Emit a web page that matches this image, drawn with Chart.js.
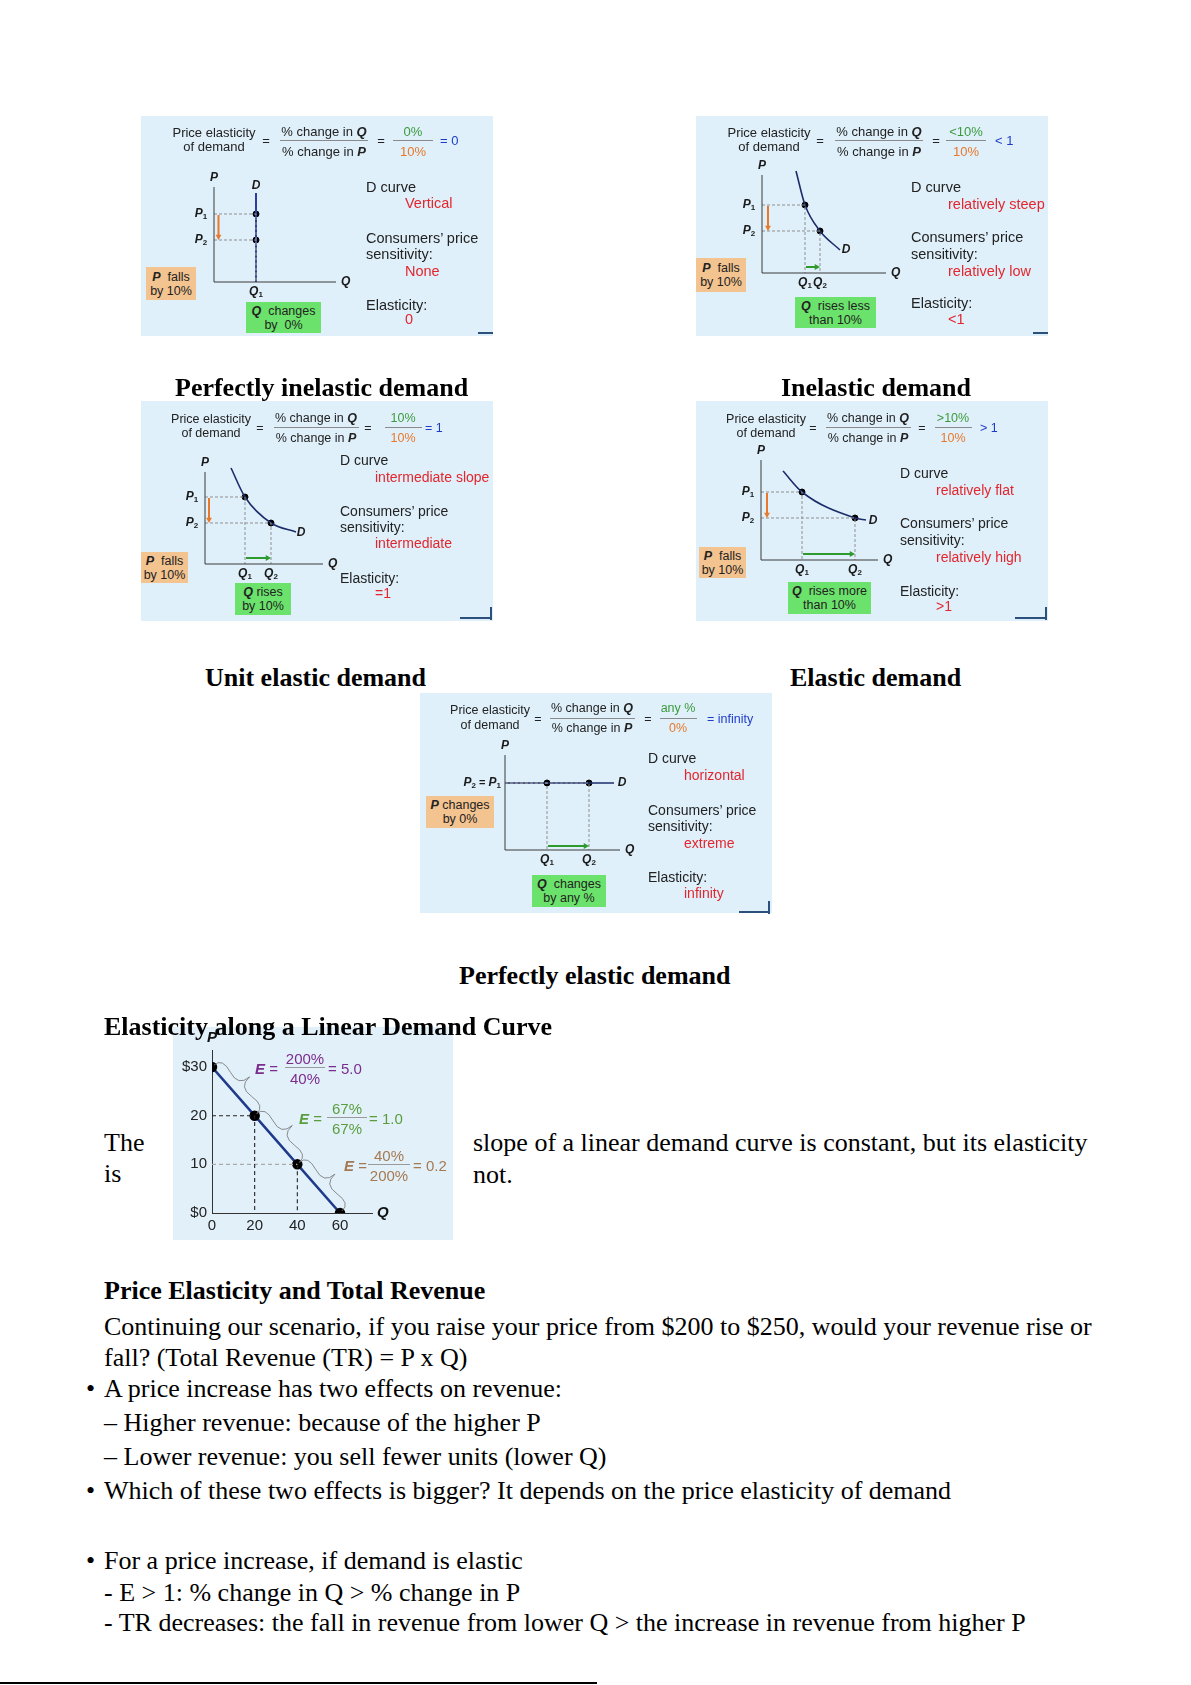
<!DOCTYPE html>
<html>
<head>
<meta charset="utf-8">
<title>Price elasticity of demand</title>
<script src="https://cdn.jsdelivr.net/npm/chart.js@4.4.1/dist/chart.umd.min.js"></script>
<style>
  html, body { margin: 0; padding: 0; background: #fff; }
  body { position: relative; width: 1191px; height: 1685px; overflow: hidden;
         font-family: "Liberation Serif", "Times New Roman", serif; color: #000; }
  .line { position: absolute; white-space: nowrap; font-size: 26px; line-height: 30px; }
  .head { font-weight: bold; }
  .panel { position: absolute; width: 352px; height: 220px; background: #dff0fa;
           font-family: "Liberation Sans", Arial, sans-serif; color: #222; }
  .panel canvas { position: absolute; left: 0; top: 0; }
  .t { position: absolute; white-space: nowrap; font-family: "Liberation Sans", Arial, sans-serif; }
  .box { position: absolute; display: flex; flex-direction: column; justify-content: center;
         align-items: center; font-size: 12.5px; line-height: 14px; color: #222; }
  .rule { position: absolute; height: 1px; background: #8a8a8a; }
  .mark { position: absolute; background: #2d4f7c; }
  #linear { position: absolute; left: 173px; top: 1027px; width: 280px; height: 213px; background: #e2f0fa; }
</style>
</head>
<body>

<div id="panels"></div>

<div class="line head" style="left:175px;top:373px">Perfectly inelastic demand</div>
<div class="line head" style="left:781px;top:373px">Inelastic demand</div>
<div class="line head" style="left:205px;top:663px">Unit elastic demand</div>
<div class="line head" style="left:790px;top:663px">Elastic demand</div>
<div class="line head" style="left:459px;top:961px">Perfectly elastic demand</div>

<div id="linear"><canvas id="linear-chart" width="280" height="213"></canvas></div>
<div class="line head" style="left:104px;top:1012px">Elasticity along a Linear Demand Curve</div>

<div class="line" style="left:104px;top:1128px">The</div>
<div class="line" style="left:104px;top:1159px">is</div>
<div class="line" style="left:473px;top:1128px">slope of a linear demand curve is constant, but its elasticity</div>
<div class="line" style="left:473px;top:1160px">not.</div>

<div class="line head" style="left:104px;top:1276px">Price Elasticity and Total Revenue</div>
<div class="line" style="left:104px;top:1312px">Continuing our scenario, if you raise your price from $200 to $250, would your revenue rise or</div>
<div class="line" style="left:104px;top:1343px">fall? (Total Revenue (TR) = P x Q)</div>
<div class="line" style="left:86px;top:1374px">•</div>
<div class="line" style="left:104px;top:1374px">A price increase has two effects on revenue:</div>
<div class="line" style="left:104px;top:1408px">– Higher revenue: because of the higher P</div>
<div class="line" style="left:104px;top:1442px">– Lower revenue: you sell fewer units (lower Q)</div>
<div class="line" style="left:86px;top:1476px">•</div>
<div class="line" style="left:104px;top:1476px">Which of these two effects is bigger? It depends on the price elasticity of demand</div>
<div class="line" style="left:86px;top:1546px">•</div>
<div class="line" style="left:104px;top:1546px">For a price increase, if demand is elastic</div>
<div class="line" style="left:104px;top:1578px">- E &gt; 1: % change in Q &gt; % change in P</div>
<div class="line" style="left:104px;top:1608px">- TR decreases: the fall in revenue from lower Q &gt; the increase in revenue from higher P</div>

<div style="position:absolute;left:0;top:1682px;width:597px;height:2px;background:#000"></div>

<script>
/* =========================
   DIAGRAM DATA (axis units)
========================= */
// demand curves, Q and P
const perfInelasticQ = [4.2, 4.2];
const perfInelasticP = [8.9, 0];
const inelasticQ = [3.4, 4.3, 5.8, 7.8];
const inelasticP = [10.2, 6.8, 4.2, 2.3];
const unitQ = [2.6, 4.0, 6.6, 9.1];
const unitP = [9.6, 6.7, 4.1, 3.2];
const elasticQ = [2.2, 4.1, 9.4, 10.5];
const elasticP = [8.9, 6.8, 4.2, 4.0];
const perfElasticQ = [0, 10.9];
const perfElasticP = [6.7, 6.7];

// the two marked points per diagram: [Q1, Q2] and [P1, P2]
const markedQ = [[4.2, 4.2], [4.3, 5.8], [4.0, 6.6], [4.1, 9.4], [4.2, 8.4]];
const markedP = [[6.8, 4.2], [6.8, 4.2], [6.7, 4.1], [6.8, 4.2], [6.7, 6.7]];

// texts
const formulaNum = ['0%', '&lt;10%', '10%', '&gt;10%', 'any %'];
const formulaDen = ['10%', '10%', '10%', '10%', '0%'];
const formulaRes = ['= 0', '&lt; 1', '= 1', '&gt; 1', '= infinity'];
const curveShape = ['Vertical', 'relatively steep', 'intermediate slope', 'relatively flat', 'horizontal'];
const sensitivity = ['None', 'relatively low', 'intermediate', 'relatively high', 'extreme'];
const elasticityText = ['0', '&lt;1', '=1', '&gt;1', 'infinity'];
const priceBoxText = [
  ['<b><i>P</i></b>&nbsp; falls', 'by 10%'],
  ['<b><i>P</i></b>&nbsp; falls', 'by 10%'],
  ['<b><i>P</i></b>&nbsp; falls', 'by 10%'],
  ['<b><i>P</i></b>&nbsp; falls', 'by 10%'],
  ['<b><i>P</i></b> changes', 'by 0%']
];
const qtyBoxText = [
  ['<b><i>Q</i></b>&nbsp; changes', 'by&nbsp; 0%'],
  ['<b><i>Q</i></b>&nbsp; rises less', 'than 10%'],
  ['<b><i>Q</i></b> rises', 'by 10%'],
  ['<b><i>Q</i></b>&nbsp; rises more', 'than 10%'],
  ['<b><i>Q</i></b>&nbsp; changes', 'by any %']
];

/* =========================
   LINEAR DEMAND DATA
========================= */
const demandQty = [0, 20, 40, 60];
const demandPrice = [30, 20, 10, 0];
const priceTicks = [0, 10, 20, 30];
const priceTickLabels = ['$0', '10', '20', '$30'];
const qtyTicks = [0, 20, 40, 60];
const arcNum = ['200%', '67%', '40%'];
const arcDen = ['40%', '67%', '200%'];
const arcValue = ['5.0', '1.0', '0.2'];

/* =========================
   PANEL LAYOUT (pixels)
========================= */
const panelLayout = [
  { left: 141, top: 116, ox: 73, oy: 166, axTop: 9.5, axRight: 12.2, pArrowX: 0.45, qArrowY: 0.6, dLabel: [4.2, 9.6],
    fx: [73, 125, 183, 240, 272, 299], fy: [16, 24, 36, 17, 31], fw: [88, 40], fs: 13,
    rx: 225, ri: 39, ry: [71, 87, 122, 138, 155, 189, 203], rfs: 14.5,
    pBox: [5, 151, 50, 33], qBox: [105, 186, 75, 31], corner: [337, 216, 15, false] },
  { left: 696, top: 116, ox: 66, oy: 157, axTop: 9.8, axRight: 12.4, pArrowX: 0.6, qArrowY: 0.6, dLabel: [8.4, 2.3],
    fx: [73, 124, 183, 240, 270, 299], fy: [16, 24, 36, 17, 31], fw: [88, 40], fs: 13,
    rx: 215, ri: 37, ry: [71, 88, 121, 138, 155, 187, 203], rfs: 14.5,
    pBox: [0, 142, 50, 34], qBox: [99, 181, 81, 31], corner: [337, 216, 15, false] },
  { left: 141, top: 401, ox: 64, oy: 163, axTop: 9.2, axRight: 11.8, pArrowX: 0.4, qArrowY: 0.6, dLabel: [9.6, 3.1],
    fx: [70, 119, 175, 227, 262, 284], fy: [17, 26, 37, 18, 32], fw: [85, 37], fs: 12.5,
    rx: 199, ri: 35, ry: [59, 76, 110, 126, 142, 177, 192], rfs: 14,
    pBox: [0, 151, 47, 31], qBox: [94, 182, 56, 32], corner: [319, 216, 31, true] },
  { left: 696, top: 401, ox: 65, oy: 159, axTop: 10.0, axRight: 11.7, pArrowX: 0.6, qArrowY: 0.6, dLabel: [11.2, 3.9],
    fx: [70, 117, 172, 226, 257, 284], fy: [17, 26, 37, 18, 32], fw: [85, 37], fs: 12.5,
    rx: 204, ri: 36, ry: [72, 89, 122, 139, 156, 190, 205], rfs: 14,
    pBox: [3, 146, 47, 31], qBox: [92, 181, 83, 32], corner: [319, 216, 31, true] },
  { left: 420, top: 693, ox: 85, oy: 157, axTop: 9.5, axRight: 11.5, pArrowX: 0, qArrowY: 0.4, dLabel: [11.7, 6.7],
    fx: [70, 118, 172, 228, 258, 287], fy: [15, 25, 35, 17, 32], fw: [85, 37], fs: 12.5,
    rx: 228, ri: 36, ry: [65, 82, 117, 133, 150, 184, 200], rfs: 14,
    pBox: [6, 103, 68, 32], qBox: [112, 182, 74, 32], corner: [319, 218, 30, true] }
];

const curvesQ = [perfInelasticQ, inelasticQ, unitQ, elasticQ, perfElasticQ];
const curvesP = [perfInelasticP, inelasticP, unitP, elasticP, perfElasticP];

const RED = '#e3262e', GREEN = '#3c9a3c', ORANGE = '#e8782a', BLUE = '#1f3cc8';

/* =========================
   HELPERS
========================= */
function put(parent, html, x, yc, o) {
  const d = document.createElement('div');
  const h = Math.round(o.size * 1.25);
  d.className = 't';
  d.innerHTML = html;
  d.style.fontSize = o.size + 'px';
  d.style.lineHeight = h + 'px';
  d.style.left = x + 'px';
  d.style.top = (yc - h / 2) + 'px';
  if (o.color) d.style.color = o.color;
  if (o.align === 'center') d.style.transform = 'translateX(-50%)';
  if (o.align === 'right') d.style.transform = 'translateX(-100%)';
  parent.appendChild(d);
}

function rule(parent, x, y, w, color) {
  const d = document.createElement('div');
  d.className = 'rule';
  d.style.left = x + 'px';
  d.style.top = y + 'px';
  d.style.width = w + 'px';
  if (color) d.style.background = color;
  parent.appendChild(d);
}

function box(parent, r, lines, bg) {
  const d = document.createElement('div');
  d.className = 'box';
  d.style.left = r[0] + 'px';
  d.style.top = r[1] + 'px';
  d.style.width = r[2] + 'px';
  d.style.height = r[3] + 'px';
  d.style.background = bg;
  d.innerHTML = lines.map(s => '<div>' + s + '</div>').join('');
  parent.appendChild(d);
}

function drawParts(ctx, parts, x, y, align) {
  let total = 0;
  parts.forEach(p => { ctx.font = p[1]; total += ctx.measureText(p[0]).width; });
  let sx = align === 'center' ? x - total / 2 : align === 'right' ? x - total : x;
  ctx.textAlign = 'left';
  ctx.textBaseline = 'middle';
  parts.forEach(p => {
    ctx.font = p[1];
    ctx.fillText(p[0], sx, y + p[2]);
    sx += ctx.measureText(p[0]).width;
  });
}

function arrow(ctx, x1, y1, x2, y2, color) {
  const a = Math.atan2(y2 - y1, x2 - x1), h = 6;
  ctx.strokeStyle = color;
  ctx.fillStyle = color;
  ctx.lineWidth = 2;
  ctx.beginPath();
  ctx.moveTo(x1, y1);
  ctx.lineTo(x2 - Math.cos(a) * h * 0.8, y2 - Math.sin(a) * h * 0.8);
  ctx.stroke();
  ctx.beginPath();
  ctx.moveTo(x2, y2);
  ctx.lineTo(x2 - h * Math.cos(a - 0.5), y2 - h * Math.sin(a - 0.5));
  ctx.lineTo(x2 - h * Math.cos(a + 0.5), y2 - h * Math.sin(a + 0.5));
  ctx.closePath();
  ctx.fill();
}

// curly brace between two pixel points, bulging to the left of (x1,y1)->(x2,y2)
function brace(ctx, x1, y1, x2, y2, w, q) {
  let dx = x1 - x2, dy = y1 - y2;
  const len = Math.hypot(dx, dy);
  dx /= len; dy /= len;
  const qx1 = x1 + q * w * dy, qy1 = y1 - q * w * dx;
  const qx2 = (x1 - 0.25 * len * dx) + (1 - q) * w * dy, qy2 = (y1 - 0.25 * len * dy) - (1 - q) * w * dx;
  const tx = (x1 - 0.5 * len * dx) + w * dy, ty = (y1 - 0.5 * len * dy) - w * dx;
  const qx3 = x2 + q * w * dy, qy3 = y2 - q * w * dx;
  const qx4 = (x1 - 0.75 * len * dx) + (1 - q) * w * dy, qy4 = (y1 - 0.75 * len * dy) - (1 - q) * w * dx;
  ctx.beginPath();
  ctx.moveTo(x1, y1);
  ctx.quadraticCurveTo(qx1, qy1, qx2, qy2);
  ctx.quadraticCurveTo(2 * qx2 - qx1, 2 * qy2 - qy1, tx, ty);
  ctx.moveTo(x2, y2);
  ctx.quadraticCurveTo(qx3, qy3, qx4, qy4);
  ctx.quadraticCurveTo(2 * qx4 - qx3, 2 * qy4 - qy3, tx, ty);
  ctx.stroke();
}

/* =========================
   PANEL DIAGRAM DRAWING
========================= */
function drawDiagram(chart, i) {
  const L = panelLayout[i];
  const ctx = chart.ctx;
  const X = v => chart.scales.x.getPixelForValue(v);
  const Y = v => chart.scales.y.getPixelForValue(v);
  const [q1, q2] = markedQ[i];
  const [p1, p2] = markedP[i];
  const big = 'italic bold 12px "Liberation Sans", Arial';
  const small = 'bold 8px "Liberation Sans", Arial';

  ctx.save();
  ctx.strokeStyle = '#3a3a3a';
  ctx.lineWidth = 1;
  ctx.beginPath();
  ctx.moveTo(X(0), Y(L.axTop));
  ctx.lineTo(X(0), Y(0));
  ctx.lineTo(X(L.axRight), Y(0));
  ctx.stroke();

  if (p1 !== p2) arrow(ctx, X(L.pArrowX), Y(p1) + 1, X(L.pArrowX), Y(p2), ORANGE);
  if (q1 !== q2) arrow(ctx, X(q1) + 1, Y(L.qArrowY), X(q2), Y(L.qArrowY), '#2e9a2e');

  ctx.fillStyle = '#1a1a1a';
  drawParts(ctx, [['P', big, 0]], X(0), Y(L.axTop) - 9, 'center');
  drawParts(ctx, [['Q', big, 0]], X(L.axRight) + 5, Y(0), 'left');
  drawParts(ctx, [['D', big, 0]], X(L.dLabel[0]), Y(L.dLabel[1]), 'center');

  if (p1 === p2) {
    drawParts(ctx, [['P', big, 0], ['2', small, 3], [' = ', 'bold 11px "Liberation Sans", Arial', 0],
                    ['P', big, 0], ['1', small, 3]], X(0) - 4, Y(p1), 'right');
  } else {
    drawParts(ctx, [['P', big, 0], ['1', small, 3]], X(0) - 13, Y(p1), 'center');
    drawParts(ctx, [['P', big, 0], ['2', small, 3]], X(0) - 13, Y(p2), 'center');
  }
  drawParts(ctx, [['Q', big, 0], ['1', small, 3]], X(q1), Y(0) + 10, 'center');
  if (q1 !== q2) drawParts(ctx, [['Q', big, 0], ['2', small, 3]], X(q2), Y(0) + 10, 'center');
  ctx.restore();
}

function buildPanel(i) {
  const L = panelLayout[i];
  const el = document.createElement('div');
  el.className = 'panel';
  el.style.left = L.left + 'px';
  el.style.top = L.top + 'px';
  document.getElementById('panels').appendChild(el);

  const cv = document.createElement('canvas');
  cv.width = 352;
  cv.height = 220;
  el.appendChild(cv);

  const xMax = 14, yMax = 11, unit = 10;
  const curved = curvesQ[i].length > 2;

  const guides = [0, 1].map(k => ({
    data: [{ x: 0, y: markedP[i][k] }, { x: markedQ[i][k], y: markedP[i][k] }, { x: markedQ[i][k], y: 0 }],
    showLine: true, borderColor: '#8f8f8f', borderWidth: 1, borderDash: [3, 2], pointRadius: 0
  }));

  const curve = {
    data: curvesQ[i].map((q, k) => ({ x: q, y: curvesP[i][k] })),
    showLine: true,
    borderColor: i === 0 ? '#2c3f9e' : '#1d2d6b',
    borderWidth: i === 0 ? 2 : 1.6,
    pointRadius: 0,
    cubicInterpolationMode: curved ? 'monotone' : 'default'
  };

  const points = {
    data: markedQ[i].map((q, k) => ({ x: q, y: markedP[i][k] })),
    showLine: false, pointRadius: 3, pointBackgroundColor: '#000', pointBorderColor: '#000'
  };

  new Chart(cv, {
    type: 'scatter',
    data: { datasets: [...guides, curve, points] },
    options: {
      responsive: false,
      animation: false,
      events: [],
      layout: { padding: { left: L.ox, top: L.oy - yMax * unit, right: 352 - L.ox - xMax * unit, bottom: 220 - L.oy } },
      scales: {
        x: { type: 'linear', display: false, min: 0, max: xMax },
        y: { type: 'linear', display: false, min: 0, max: yMax }
      },
      plugins: { legend: { display: false }, tooltip: { enabled: false } }
    },
    plugins: [{ id: 'diagram', afterDatasetsDraw: chart => drawDiagram(chart, i) }]
  });

  // formula
  const f = L.fx, fy = L.fy, fs = L.fs;
  put(el, 'Price elasticity', f[0], fy[3], { size: fs, align: 'center' });
  put(el, 'of demand', f[0], fy[4], { size: fs, align: 'center' });
  put(el, '=', f[1], fy[1] + 1, { size: fs, align: 'center' });
  put(el, '% change in <b><i>Q</i></b>', f[2], fy[0], { size: fs, align: 'center' });
  rule(el, f[2] - L.fw[0] / 2, fy[1], L.fw[0]);
  put(el, '% change in <b><i>P</i></b>', f[2], fy[2], { size: fs, align: 'center' });
  put(el, '=', f[3], fy[1] + 1, { size: fs, align: 'center' });
  put(el, formulaNum[i], f[4], fy[0], { size: fs, align: 'center', color: GREEN });
  rule(el, f[4] - L.fw[1] / 2, fy[1], L.fw[1]);
  put(el, formulaDen[i], f[4], fy[2], { size: fs, align: 'center', color: ORANGE });
  put(el, formulaRes[i], f[5], fy[1] + 1, { size: fs, color: BLUE });

  // right hand descriptions
  const rs = L.rfs, ry = L.ry;
  put(el, 'D curve', L.rx, ry[0], { size: rs });
  put(el, curveShape[i], L.rx + L.ri, ry[1], { size: rs, color: RED });
  put(el, 'Consumers’ price', L.rx, ry[2], { size: rs });
  put(el, 'sensitivity:', L.rx, ry[3], { size: rs });
  put(el, sensitivity[i], L.rx + L.ri, ry[4], { size: rs, color: RED });
  put(el, 'Elasticity:', L.rx, ry[5], { size: rs });
  put(el, elasticityText[i], L.rx + L.ri, ry[6], { size: rs, color: RED });

  // boxes
  box(el, L.pBox, priceBoxText[i], '#f3c390');
  box(el, L.qBox, qtyBoxText[i], '#6be26b');

  // little corner mark
  const c = L.corner;
  const h = document.createElement('div');
  h.className = 'mark';
  h.style.cssText = `left:${c[0]}px;top:${c[1]}px;width:${c[2]}px;height:1.5px`;
  el.appendChild(h);
  if (c[3]) {
    const v = document.createElement('div');
    v.className = 'mark';
    v.style.cssText = `left:${c[0] + c[2] - 1}px;top:${c[1] - 10}px;width:1.5px;height:13px`;
    el.appendChild(v);
  }
}

panelLayout.forEach((_, i) => buildPanel(i));

/* =========================
   LINEAR DEMAND CURVE CHART
========================= */
const linearGuides = [
  { data: [{ x: 0, y: demandPrice[1] }, { x: demandQty[1], y: demandPrice[1] }, { x: demandQty[1], y: 0 }], color: '#222' },
  { data: [{ x: 0, y: demandPrice[2] }, { x: demandQty[2], y: demandPrice[2] }], color: '#aaaaaa' },
  { data: [{ x: demandQty[2], y: demandPrice[2] }, { x: demandQty[2], y: 0 }], color: '#222' }
].map(g => ({ data: g.data, showLine: true, borderColor: g.color, borderWidth: 1.1, borderDash: [4, 3], pointRadius: 0 }));

function drawLinearExtras(chart) {
  const ctx = chart.ctx;
  const X = v => chart.scales.x.getPixelForValue(v);
  const Y = v => chart.scales.y.getPixelForValue(v);
  const area = chart.chartArea;
  ctx.save();
  ctx.strokeStyle = '#707070';
  ctx.lineWidth = 0.8;
  for (let k = 0; k < demandQty.length - 1; k++) {
    brace(ctx, X(demandQty[k + 1]) + 2, Y(demandPrice[k + 1]) - 2, X(demandQty[k]) + 2, Y(demandPrice[k]) - 2, 19, 0.6);
  }
  ctx.fillStyle = '#111';
  ctx.font = 'italic bold 15px "Liberation Sans", Arial';
  ctx.textBaseline = 'middle';
  ctx.textAlign = 'center';
  ctx.fillText('P', area.left, area.top - 12);
  ctx.textAlign = 'left';
  ctx.fillText('Q', area.right + 5, area.bottom);
  ctx.restore();
}

new Chart(document.getElementById('linear-chart'), {
  type: 'scatter',
  data: {
    datasets: [
      ...linearGuides,
      {
        data: demandQty.map((q, k) => ({ x: q, y: demandPrice[k] })),
        showLine: true, borderColor: '#1f3a8a', borderWidth: 2.5,
        pointRadius: 4, pointBackgroundColor: '#000', pointBorderColor: '#000'
      }
    ]
  },
  options: {
    responsive: false,
    animation: false,
    events: [],
    layout: { padding: { left: 0, top: 23, right: 81, bottom: 0 } },
    scales: {
      x: {
        type: 'linear', min: 0, max: 75,
        afterBuildTicks: s => { s.ticks = qtyTicks.map(v => ({ value: v })); },
        afterFit: s => { s.height = 27; },
        grid: { display: false, drawTicks: false },
        border: { color: '#333', width: 1 },
        ticks: { color: '#222', padding: 4, font: { size: 15, family: '"Liberation Sans", Arial' } }
      },
      y: {
        type: 'linear', min: 0, max: 33.5,
        afterBuildTicks: s => { s.ticks = priceTicks.map(v => ({ value: v })); },
        afterFit: s => { s.width = 39; },
        grid: { display: false, drawTicks: false },
        border: { color: '#333', width: 1 },
        ticks: {
          color: '#222', padding: 5, font: { size: 15, family: '"Liberation Sans", Arial' },
          callback: v => priceTickLabels[priceTicks.indexOf(v)]
        }
      }
    },
    plugins: { legend: { display: false }, tooltip: { enabled: false } }
  },
  plugins: [{ id: 'linearExtras', afterDatasetsDraw: drawLinearExtras }]
});

// arc elasticity labels
const arcColors = ['#7b2d8e', '#5a9e3c', '#a57a52'];
const arcEqRight = [278, 322, 367];
const arcFracCenter = [305, 347, 389];
const arcFracWidth = [40, 40, 42];
const arcLineY = [1067, 1117, 1164];
const arcValueLeft = [328, 369, 413];
arcNum.forEach((num, k) => {
  const o = { size: 15, color: arcColors[k] };
  put(document.body, '<b><i>E</i></b> =', arcEqRight[k], arcLineY[k] + 1, { ...o, align: 'right' });
  put(document.body, num, arcFracCenter[k], arcLineY[k] - 9, { ...o, align: 'center' });
  rule(document.body, arcFracCenter[k] - arcFracWidth[k] / 2, arcLineY[k], arcFracWidth[k], '#9a9a9a');
  put(document.body, arcDen[k], arcFracCenter[k], arcLineY[k] + 11, { ...o, align: 'center' });
  put(document.body, '= ' + arcValue[k], arcValueLeft[k], arcLineY[k] + 1, o);
});
</script>
</body>
</html>
